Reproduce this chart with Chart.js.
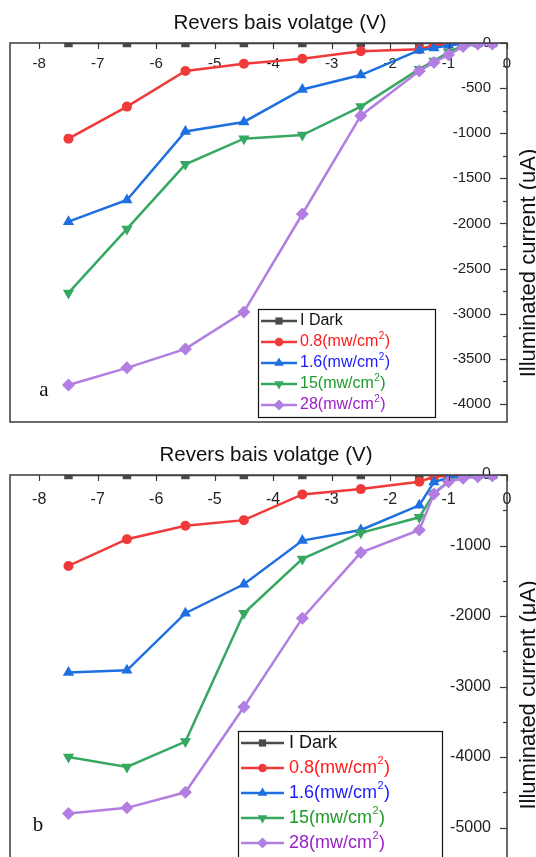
<!DOCTYPE html>
<html>
<head>
<meta charset="utf-8">
<script src="https://cdn.jsdelivr.net/npm/chart.js@4.4.1/dist/chart.umd.min.js"></script>
<style>
  html, body { margin: 0; padding: 0; background: #fff; }
  #page { position: relative; width: 536px; height: 857px; overflow: hidden; background: #fff; }
  .panel { position: absolute; left: 0; width: 536px; }
  #pa { top: 0; height: 430px; }
  #pb { top: 432px; height: 460px; }
</style>
</head>
<body>
<div id="page">
  <div class="panel" id="pa"><canvas id="ca"></canvas></div>
  <div class="panel" id="pb"><canvas id="cb"></canvas></div>
</div>
<script>
// Reverse bias voltage steps (V)
const voltage = [-7.5, -6.5, -5.5, -4.5, -3.5, -2.5, -1.5, -1.25, -1, -0.75, -0.5, -0.25];

// Axis tick values
const xTicks  = [-8, -7, -6, -5, -4, -3, -2, -1, 0];
const yTicksA = [0, -500, -1000, -1500, -2000, -2500, -3000, -3500, -4000];
const yTicksB = [0, -1000, -2000, -3000, -4000, -5000];

// Legend names
const seriesNames = ['I Dark', '0.8(mw/cm²)', '1.6(mw/cm²)', '15(mw/cm²)', '28(mw/cm²)'];

// Sample a: current (uA)
const darkA   = [0, 0, 0, 0, 0, 0, 0, 0, 0, 0, 0, 0];
const red08A  = [-1060, -705, -310, -230, -175, -92, -70, -25, -12, -5, 0, 0];
const blue16A = [-1980, -1740, -980, -875, -515, -355, -80, -55, -25, -10, -5, 0];
const green15A  = [-2770, -2060, -1345, -1060, -1020, -705, -290, -200, -100, -30, -10, -5];
const purple28A = [-3790, -3600, -3390, -2980, -1895, -805, -310, -215, -130, -40, -10, -10];

// Sample b: current (uA)
const darkB   = [0, 0, 0, 0, 0, 0, 0, 0, 0, 0, 0, 0];
const red08B  = [-1290, -910, -720, -640, -275, -200, -95, -25, -10, -5, 0, 0];
const blue16B = [-2800, -2770, -1960, -1550, -930, -780, -430, -100, -40, -15, -5, 0];
const green15B  = [-4000, -4140, -3780, -1960, -1190, -820, -600, -260, -90, -35, -10, 0];
const purple28B = [-4800, -4720, -4500, -3290, -2030, -1100, -780, -270, -95, -45, -25, -10];

const SANS = "'Liberation Sans', Arial, sans-serif";
const SERIF = "'Liberation Serif', 'Times New Roman', serif";

const styles = [
  { line: '#4a4a4a', text: '#111111', point: 'rect',     rot: 0,   r: 6 },
  { line: '#f03a3a', text: '#ff1a1a', point: 'circle',   rot: 0,   r: 5 },
  { line: '#1e6fe0', text: '#1a1aff', point: 'triangle', rot: 0,   r: 6.5 },
  { line: '#36a862', text: '#1f9a2a', point: 'triangle', rot: 180, r: 6.5 },
  { line: '#b27ee2', text: '#9b1fc9', point: 'rectRot',  rot: 0,   r: 6.5 }
];

function drawRichText(ctx, text, x, y, size) {
  // draws "²" as a raised small "2"
  const parts = text.split('²');
  ctx.font = size + 'px ' + SANS;
  ctx.fillText(parts[0], x, y);
  let cx = x + ctx.measureText(parts[0]).width;
  if (parts.length > 1) {
    const small = Math.round(size * 0.62);
    ctx.font = small + 'px ' + SANS;
    ctx.fillText('2', cx + 0.5, y - size * 0.38);
    cx += ctx.measureText('2').width + 1;
    ctx.font = size + 'px ' + SANS;
    ctx.fillText(parts[1], cx, y);
  }
}

const panelDecor = {
  id: 'panelDecor',
  afterDatasetsDraw(chart, args, o) {
    const { ctx, chartArea: a, scales } = chart;
    ctx.save();
    // plot frame
    ctx.strokeStyle = '#3a3a3a';
    ctx.lineWidth = 1.5;
    ctx.strokeRect(a.left, a.top, a.right - a.left, a.bottom - a.top);

    // top axis ticks, pointing inward
    ctx.lineWidth = 1.2;
    scales.x.ticks.forEach(t => {
      const px = Math.round(scales.x.getPixelForValue(t.value)) + 0.5;
      ctx.beginPath(); ctx.moveTo(px, a.top); ctx.lineTo(px, a.top + 6); ctx.stroke();
    });
    // right axis ticks: major at labels, minor halfway between
    const half = o.yStep / 2;
    scales.y.ticks.forEach(t => {
      const v = t.value;
      const py = Math.round(scales.y.getPixelForValue(v)) + 0.5;
      ctx.beginPath(); ctx.moveTo(a.right, py); ctx.lineTo(a.right - 7, py); ctx.stroke();
      const mv = v - half;
      if (mv >= scales.y.min) {
        const pm = Math.round(scales.y.getPixelForValue(mv)) + 0.5;
        ctx.beginPath(); ctx.moveTo(a.right, pm); ctx.lineTo(a.right - 4, pm); ctx.stroke();
      }
    });

    // axis titles
    ctx.fillStyle = '#111';
    ctx.textAlign = 'center';
    ctx.textBaseline = 'middle';
    ctx.font = '20.5px ' + SANS;
    ctx.fillText('Revers bais volatge (V)', o.xTitleX, a.top - 20);

    ctx.save();
    ctx.translate(535, a.top + 220);
    ctx.rotate(-Math.PI / 2);
    ctx.textBaseline = 'alphabetic';
    ctx.font = '22px ' + SANS;
    ctx.fillText(o.yTitle, 0, 0);
    ctx.restore();

    // panel letter
    ctx.font = '21px ' + SERIF;
    ctx.textAlign = 'center';
    ctx.fillText(o.letter, o.letterX, o.letterY);

    // legend
    const L = o.legend;
    ctx.fillStyle = '#fff';
    ctx.fillRect(L.left, L.top, L.right - L.left, L.bottom - L.top);
    ctx.strokeStyle = '#111';
    ctx.lineWidth = 1.2;
    ctx.strokeRect(L.left + 0.5, L.top + 0.5, L.right - L.left, L.bottom - L.top);
    chart.data.datasets.forEach((ds, i) => {
      const y = L.row0 + i * L.gap;
      ctx.strokeStyle = ds.borderColor;
      ctx.lineWidth = 2.5;
      ctx.beginPath(); ctx.moveTo(L.lineFrom, y); ctx.lineTo(L.lineTo, y); ctx.stroke();
      ctx.fillStyle = ds.borderColor;
      Chart.helpers.drawPoint(ctx, {
        pointStyle: ds.pointStyle, rotation: ds.pointRotation,
        radius: ds.pointRadius * 0.85, borderWidth: 0
      }, (L.lineFrom + L.lineTo) / 2, y);
      ctx.fillStyle = styles[i].text;
      ctx.textAlign = 'left';
      ctx.textBaseline = 'middle';
      drawRichText(ctx, ds.label, L.textX, y, L.font);
    });
    ctx.restore();
  }
};

function makePanel(canvasId, values, yMin, yTicks, yStep, tickFont, tickPad, decor) {
  const datasets = values.map((vals, i) => ({
    label: seriesNames[i],
    data: voltage.map((v, k) => ({ x: v, y: vals[k] })),
    borderColor: styles[i].line,
    backgroundColor: styles[i].line,
    pointStyle: styles[i].point,
    pointRotation: styles[i].rot,
    pointRadius: styles[i].r,
    pointBorderWidth: 0,
    borderWidth: 2.5,
    tension: 0,
    clip: 0,
    order: 5 - i
  }));
  return new Chart(document.getElementById(canvasId), {
    type: 'line',
    data: { datasets },
    plugins: [panelDecor],
    options: {
      responsive: true,
      maintainAspectRatio: false,
      animation: false,
      devicePixelRatio: 1,
      events: [],
      layout: { padding: { left: 10, right: 0, top: 0, bottom: 8 } },
      plugins: {
        legend: { display: false },
        tooltip: { enabled: false },
        panelDecor: Object.assign({ yStep }, decor)
      },
      scales: {
        x: {
          type: 'linear', position: 'top', min: -8.5, max: 0,
          grid: { display: false, drawTicks: false },
          border: { display: false },
          afterBuildTicks: s => { s.ticks = xTicks.map(v => ({ value: v })); },
          ticks: {
            autoSkip: false, maxRotation: 0, minRotation: 0,
            mirror: true, padding: tickPad,
            callback: v => String(v),
            color: '#222', font: { family: SANS, size: tickFont }
          },
          afterFit: s => { s.height = 43; s.paddingLeft = 0; s.paddingRight = 0; }
        },
        y: {
          type: 'linear', position: 'right', min: yMin, max: 0,
          grid: { display: false, drawTicks: false },
          border: { display: false },
          afterBuildTicks: s => { s.ticks = yTicks.map(v => ({ value: v })); },
          ticks: {
            autoSkip: false, mirror: true, padding: -16,
            callback: v => String(v),
            color: '#222', font: { family: SANS, size: tickFont }
          },
          afterFit: s => { s.width = 29; s.paddingTop = 0; s.paddingBottom = 0; }
        }
      }
    }
  });
}

makePanel('ca', [darkA, red08A, blue16A, green15A, purple28A], -4200, yTicksA, 500, 15, 12, {
  xTitleX: 280, yTitle: 'Illuminated current (uA)', letter: 'a', letterX: 44, letterY: 390,
  legend: { left: 258, top: 309, right: 435, bottom: 417, row0: 321, gap: 21,
            lineFrom: 261, lineTo: 297, textX: 300, font: 16 }
});

makePanel('cb', [darkB, red08B, blue16B, green15B, purple28B], -5800, yTicksB, 1000, 16, 15, {
  xTitleX: 266, yTitle: 'Illuminated current (μA)', letter: 'b', letterX: 38, letterY: 825 - 432,
  legend: { left: 238, top: 731 - 432, right: 442, bottom: 870 - 432, row0: 743 - 432, gap: 25,
            lineFrom: 241, lineTo: 284, textX: 289, font: 18 }
});
</script>
</body>
</html>
